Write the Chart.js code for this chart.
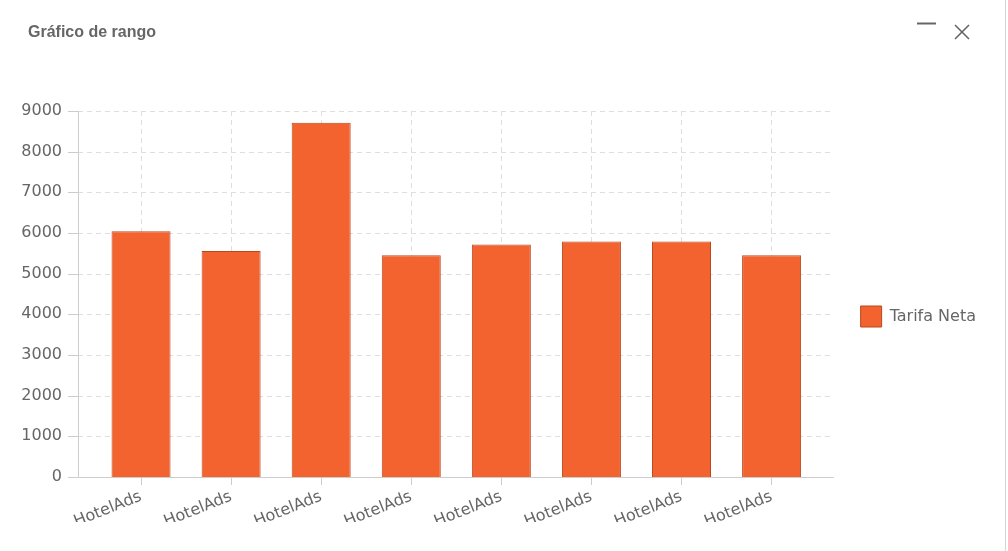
<!DOCTYPE html>
<html>
<head>
<meta charset="utf-8">
<script src="https://cdn.jsdelivr.net/npm/chart.js@4/dist/chart.umd.min.js"></script>
<style>
  html, body { margin: 0; padding: 0; background: #fff; }
  #wrap { position: relative; width: 1008px; height: 551px; overflow: hidden; }
  #title { position: absolute; left: 28px; top: 23px; font: bold 16px "Liberation Sans", Arial, sans-serif; color: #666; }
  #icons { position: absolute; left: 912px; top: 14px; }
  #edge { position: absolute; left: 1005px; top: 0; width: 1px; height: 551px; background: #d4d4d4; }
  #box { position: absolute; left: 0; top: 0; width: 1005px; height: 551px; }
</style>
</head>
<body>
<div id="wrap">
  <div id="box"><canvas id="chart"></canvas></div>
  <div id="title">Gráfico de rango</div>
  <svg id="icons" width="70" height="32">
    <line x1="5" y1="9.5" x2="24" y2="9.5" stroke="#666" stroke-width="2"/>
    <line x1="43" y1="11" x2="57" y2="25" stroke="#666" stroke-width="1.6"/>
    <line x1="57" y1="11" x2="43" y2="25" stroke="#666" stroke-width="1.6"/>
  </svg>
  <div id="edge"></div>
</div>
<script>
// ================= DATA =================
const categories = ["HotelAds", "HotelAds", "HotelAds", "HotelAds", "HotelAds", "HotelAds", "HotelAds", "HotelAds"];
const tarifaNeta = [6040, 5560, 8710, 5450, 5720, 5790, 5790, 5450];
const seriesName = "Tarifa Neta";
const yMin = 0, yMax = 9000, yStep = 1000;

const FONT = "'DejaVu Sans', Verdana, sans-serif";
const TEXT = "#666";
const LINE = "#cccccc";
const GRID = "#dedede";

// ================= AXIS LINES / Y GRID =================
// y axis + horizontal split lines stretch a bit past the category area
const axisPlugin = {
    id: "axisLines",
    beforeDatasetsDraw(chart) {
        const { ctx, chartArea, scales } = chart;
        const left = chartArea.left - 18;
        const right = chartArea.right + 17;
        const y = scales.y;
        ctx.save();
        ctx.lineWidth = 1;
        ctx.strokeStyle = GRID;
        ctx.setLineDash([5, 4]);
        y.ticks.forEach(t => {
            if (t.value === yMin) return;
            const py = Math.round(y.getPixelForValue(t.value)) + 0.5;
            ctx.beginPath();
            ctx.moveTo(left, py);
            ctx.lineTo(right, py);
            ctx.stroke();
        });
        ctx.setLineDash([]);
        ctx.strokeStyle = LINE;
        y.ticks.forEach(t => {
            const py = Math.round(y.getPixelForValue(t.value)) + 0.5;
            ctx.beginPath();
            ctx.moveTo(left - 10, py);
            ctx.lineTo(left, py);
            ctx.stroke();
        });
        const bottom = Math.round(y.getPixelForValue(yMin)) + 0.5;
        ctx.beginPath();
        ctx.moveTo(left + 0.5, Math.round(chartArea.top));
        ctx.lineTo(left + 0.5, bottom);
        ctx.lineTo(right, bottom);
        ctx.stroke();
        ctx.restore();
    }
};

new Chart(document.getElementById("chart"), {
    type: "bar",
    data: {
        labels: categories,
        datasets: [{
            label: seriesName,
            data: tarifaNeta,
            backgroundColor: "#f2632f",
            borderColor: "#b8481f",
            borderWidth: 1,
            categoryPercentage: 1,
            barPercentage: 0.655
        }]
    },
    options: {
        responsive: true,
        maintainAspectRatio: false,
        animation: false,
        layout: { padding: { top: 111, bottom: 29, left: 0, right: 19 } },
        plugins: {
            title: { display: false },
            tooltip: { enabled: false },
            legend: {
                position: "right",
                labels: {
                    boxWidth: 21,
                    boxHeight: 21,
                    padding: 10,
                    color: TEXT,
                    font: { family: FONT, size: 16 }
                }
            }
        },
        scales: {
            x: {
                grid: {
                    display: true,
                    offset: false,
                    color: GRID,
                    borderDash: [5, 4],
                    tickColor: LINE,
                    tickLength: 8,
                    tickBorderDash: []
                },
                border: { display: false, dash: [5, 4] },
                ticks: {
                    color: TEXT,
                    font: { family: FONT, size: 16 },
                    minRotation: 22,
                    maxRotation: 22,
                    padding: 2,
                    autoSkip: false
                },
                afterFit(s) { s.height = 45; }
            },
            y: {
                min: yMin,
                max: yMax,
                grid: { display: false, drawTicks: false },
                border: { display: false },
                ticks: {
                    stepSize: yStep,
                    color: TEXT,
                    font: { family: FONT, size: 16 },
                    padding: 34,
                    callback: v => String(v)
                },
                afterFit(s) { s.width = 96; }
            },
            gap: {
                type: "linear",
                position: "right",
                display: true,
                grid: { display: false, drawTicks: false },
                border: { display: false },
                ticks: { display: false },
                afterFit(s) { s.width = 34; }
            }
        }
    },
    plugins: [axisPlugin]
});
</script>
</body>
</html>
